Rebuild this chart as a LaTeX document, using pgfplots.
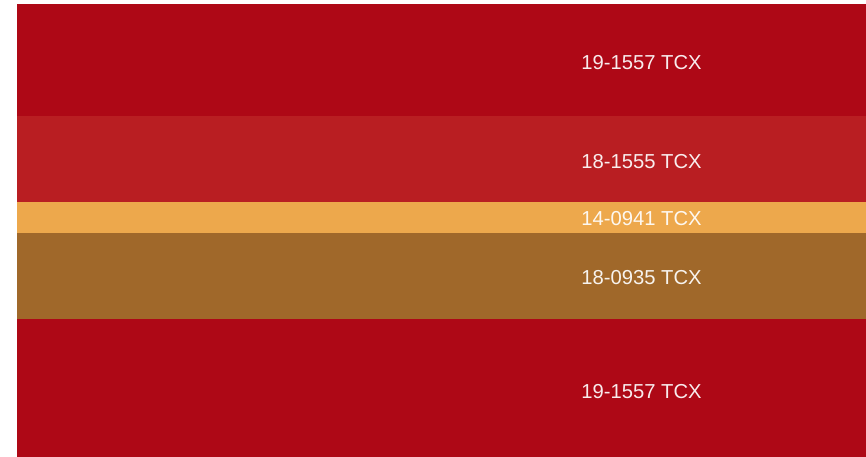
\documentclass[border=0pt]{standalone}
\usepackage{pgfplots}
\pgfplotsset{compat=1.18}
\usepackage{fontspec}
\setmainfont{Liberation Sans}
\definecolor{redA}{HTML}{AE0816}
\definecolor{redB}{HTML}{B91E22}
\definecolor{orangeC}{HTML}{EDA84C}
\definecolor{brownD}{HTML}{A0682A}
\tikzset{lbl/.style={text=white, text opacity=0.92, font=\fontsize{20.2}{21}\selectfont}}
\begin{document}
\begin{tikzpicture}
\path[use as bounding box] (-17pt,0pt) rectangle (849pt,457pt);
\begin{axis}[
    scale only axis, width=849pt, height=453pt,
    hide axis, clip=false,
    xmin=0, xmax=1, ymin=0, ymax=453,
    ybar stacked, bar width=1,
]
\addplot[fill=redA, draw=none] coordinates {(0.5,138)};
\addplot[fill=brownD, draw=none] coordinates {(0.5,86)};
\addplot[fill=orangeC, draw=none] coordinates {(0.5,31)};
\addplot[fill=redB, draw=none] coordinates {(0.5,86)};
\addplot[fill=redA, draw=none] coordinates {(0.5,112)};
\coordinate (l1) at (axis cs:0.7356,65);
\coordinate (l2) at (axis cs:0.7356,179);
\coordinate (l3) at (axis cs:0.7356,238.5);
\coordinate (l4) at (axis cs:0.7356,295);
\coordinate (l5) at (axis cs:0.7356,394);
\end{axis}
\node[lbl] at (l1) {19-1557 TCX};
\node[lbl] at (l2) {18-0935 TCX};
\node[lbl] at (l3) {14-0941 TCX};
\node[lbl] at (l4) {18-1555 TCX};
\node[lbl] at (l5) {19-1557 TCX};
\end{tikzpicture}
\end{document}
